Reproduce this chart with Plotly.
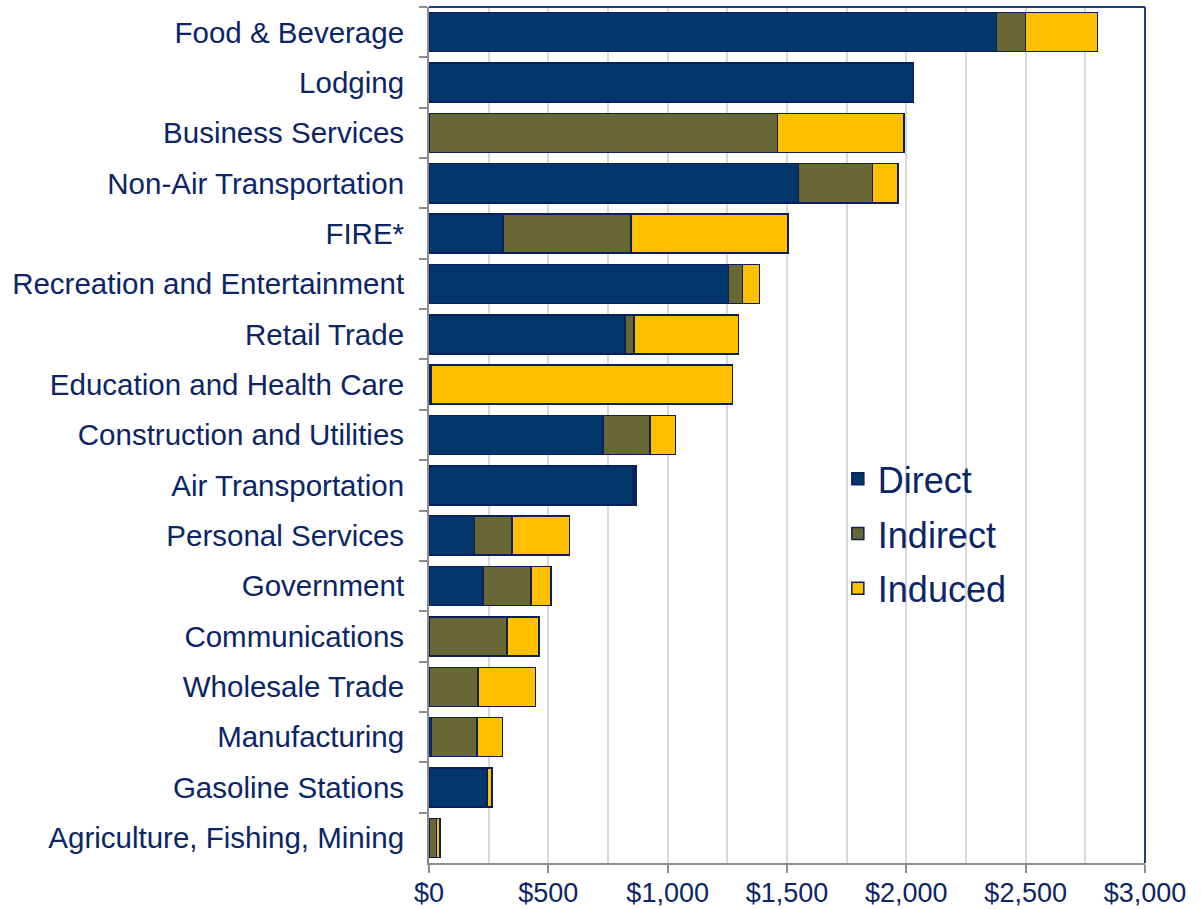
import plotly.graph_objects as go

categories = [
    "Food & Beverage", "Lodging", "Business Services", "Non-Air Transportation",
    "FIRE*", "Recreation and Entertainment", "Retail Trade", "Education and Health Care",
    "Construction and Utilities", "Air Transportation", "Personal Services", "Government",
    "Communications", "Wholesale Trade", "Manufacturing", "Gasoline Stations",
    "Agriculture, Fishing, Mining",
]
direct = [2377, 2031, 0, 1549, 309, 1255, 821, 4, 730, 853, 191, 226, 0, 0, 11, 242, 0]
indirect = [123, 0, 1461, 309, 537, 58, 37, 4, 195, 5, 157, 201, 327, 205, 190, 4, 32]
induced = [302, 0, 530, 108, 659, 71, 439, 1264, 107, 10, 240, 84, 133, 242, 107, 17, 15]

x_ticks = [0, 500, 1000, 1500, 2000, 2500, 3000]
x_tick_labels = ["$0", "$500", "$1,000", "$1,500", "$2,000", "$2,500", "$3,000"]

series = [
    ("Direct", direct, "#03366A"),
    ("Indirect", indirect, "#686834"),
    ("Induced", induced, "#FFC000"),
]

TEXT = "#0B2566"
OUTLINE = "#0A1F5C"

fig = go.Figure()
for i, (name, vals, color) in enumerate(series):
    fig.add_trace(go.Bar(
        y=categories, x=vals, name=name, orientation="h",
        marker=dict(color=color, line=dict(color=OUTLINE, width=1.5)),
        legendgroup=name,
    ))

fig.update_layout(
    barmode="stack",
    bargap=0.225,
    width=1201, height=909,
    margin=dict(l=429, r=56, t=7, b=46, pad=0, autoexpand=False),
    plot_bgcolor="white", paper_bgcolor="white",
    font=dict(family="Liberation Sans, Arial, sans-serif", color=TEXT),
    legend=dict(
        x=0.571, xanchor="left", y=0.3845, yanchor="middle",
        font=dict(size=36, color=TEXT),
        bgcolor="rgba(0,0,0,0)", tracegroupgap=5,
        traceorder="grouped",
    ),
    xaxis=dict(
        range=[0, 3000], tickvals=x_ticks, ticktext=x_tick_labels,
        showgrid=True, gridcolor="#D9D9D9", gridwidth=1.5,
        minor=dict(dtick=250, tick0=0, showgrid=True, gridcolor="#D9D9D9", gridwidth=1.5),
        showline=True, linecolor="#8C8C8C", linewidth=2,
        ticks="outside", ticklen=8, tickcolor="#8C8C8C", tickwidth=2,
        tickfont=dict(size=27, color=TEXT), zeroline=False, automargin=False,
        ticklabelstandoff=-3,
    ),
    yaxis=dict(
        autorange="reversed", type="category",
        showline=True, linecolor="#8C8C8C", linewidth=2,
        ticks="outside", ticklen=8, tickcolor="#8C8C8C", tickwidth=2,
        tickson="boundaries", showgrid=False, automargin=False,
        tickfont=dict(size=29.5, color=TEXT), ticklabelstandoff=17,
    ),
    shapes=[
        dict(type="line", xref="paper", yref="paper", x0=0, x1=1, y0=1, y1=1,
             line=dict(color="#1A3F7A", width=2)),
        dict(type="line", xref="paper", yref="paper", x0=1, x1=1, y0=0, y1=1,
             line=dict(color="#1A3F7A", width=2)),
    ],
)

fig.write_html(
    "out.html",
    config={"displayModeBar": False},
    post_script="document.body.style.margin='0';document.body.style.overflow='hidden';",
)
